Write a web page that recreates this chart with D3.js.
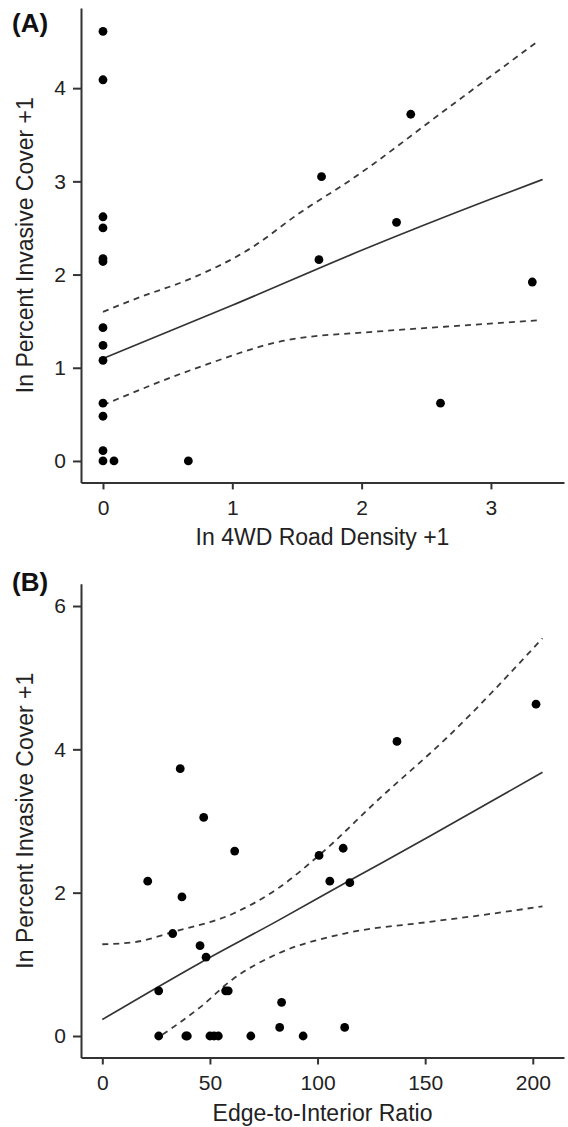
<!DOCTYPE html>
<html>
<head>
<meta charset="utf-8">
<script src="https://cdn.jsdelivr.net/npm/d3@7"></script>
<style>
	html, body { margin: 0; padding: 0; background: #fff; }
	svg { display: block; font-family: "Liberation Sans", Arial, sans-serif; }
	.axis path, .axis line { stroke: #333; stroke-width: 2; }
	.axis text { font-size: 21px; fill: #222; }
	.axis-title { font-size: 23px; fill: #222; }
	.panel-letter { font-size: 26px; font-weight: bold; fill: #111; }
</style>
</head>
<body>
<div id="chart"></div>
<script>
// ----------------------------------
// DATA
// ----------------------------------

// Panel A: ln 4WD road density +1 vs ln percent invasive cover +1
const roadDensity = [0, 0, 0, 0, 0, 0, 0, 0, 0, 0, 0, 0, 0, 0.085, 0.66, 1.67, 1.69, 2.27, 2.38, 2.61, 3.32];
const coverA = [4.61, 4.09, 2.62, 2.50, 2.17, 2.14, 1.43, 1.24, 1.08, 0.62, 0.48, 0.11, 0, 0, 0, 2.16, 3.05, 2.56, 3.72, 0.62, 1.92];

const fitA = [[0, 1.10], [1, 1.67], [2, 2.26], [3, 2.81], [3.40, 3.02]];
const upperA = [[0, 1.60], [0.29, 1.76], [0.65, 1.94], [1.14, 2.28], [1.52, 2.66], [1.91, 3.01], [2.68, 3.80], [3.36, 4.50]];
const lowerA = [[0, 0.60], [0.75, 1.01], [1.40, 1.29], [2.13, 1.39], [2.64, 1.44], [3.38, 1.51]];

const xTicksA = [0, 1, 2, 3];
const yTicksA = [0, 1, 2, 3, 4];

// Panel B: edge-to-interior ratio vs ln percent invasive cover +1
const edgeRatio = [36.2, 47.1, 61.5, 136.9, 201.5, 111.9, 21.1, 37.0, 32.7, 45.4, 48.2, 26.2, 57.3, 58.5, 83.3, 82.4,
	26.2, 38.8, 39.5, 50.0, 51.9, 53.9, 69.0, 93.3, 100.7, 105.7, 115.0, 112.6];
const coverB = [3.73, 3.05, 2.58, 4.11, 4.63, 2.62, 2.16, 1.94, 1.43, 1.26, 1.10, 0.63, 0.63, 0.63, 0.47, 0.12,
	0, 0, 0, 0, 0, 0, 0, 0, 2.52, 2.16, 2.14, 0.12];

const fitB = [[0, 0.23], [45.4, 1.02], [81.6, 1.61], [112.6, 2.13], [152.9, 2.80], [204.5, 3.68]];
const upperB = [[0, 1.28], [15, 1.31], [32.7, 1.45], [60.9, 1.71], [81.6, 2.06], [101.8, 2.55], [128.3, 3.30], [160.7, 4.18], [204.5, 5.55]];
const lowerB = [[28, 0.02], [45.4, 0.40], [60.9, 0.80], [81.6, 1.15], [112.6, 1.43], [151.3, 1.59], [174.6, 1.68], [204.5, 1.81]];

const xTicksB = [0, 50, 100, 150, 200];
const yTicksB = [0, 2, 4, 6];

// ----------------------------------
// SVG
// ----------------------------------

const width = 568, height = 1127;

const svg = d3.select("#chart")
	.append("svg")
	.attr("width", width)
	.attr("height", height);

const fmt = d3.format("d");

function drawPanel(opts){
	const xScale = d3.scaleLinear().domain(opts.xDomain).range([81, 564]);
	const yScale = d3.scaleLinear().domain(opts.yDomain).range(opts.yRange);
	const bottom = opts.yRange[0], top = opts.yRange[1];

	const g = svg.append("g").classed("panel", true);

	// axes
	g.append("g")
		.classed("axis", true)
		.attr("transform", `translate(0,${bottom})`)
		.call(d3.axisBottom(xScale).tickValues(opts.xTicks).tickFormat(fmt)
			.tickSizeInner(7).tickSizeOuter(0).tickPadding(11));

	g.append("g")
		.classed("axis", true)
		.attr("transform", "translate(81,0)")
		.call(d3.axisLeft(yScale).tickValues(opts.yTicks).tickFormat(fmt)
			.tickSizeInner(8).tickSizeOuter(0).tickPadding(7));

	// fitted line and confidence band
	const line = d3.line()
		.x(d => xScale(d[0]))
		.y(d => yScale(d[1]))
		.curve(d3.curveMonotoneX);

	g.append("path")
		.datum(opts.fit)
		.attr("d", line)
		.style("fill", "none")
		.style("stroke", "#333")
		.style("stroke-width", 1.7);

	[opts.upper, opts.lower].forEach(band => {
		g.append("path")
			.datum(band)
			.attr("d", line)
			.style("fill", "none")
			.style("stroke", "#3a3a3a")
			.style("stroke-width", 1.8)
			.style("stroke-dasharray", "6,5");
	});

	// points
	g.selectAll("circle")
		.data(opts.xs.map((x, i) => [x, opts.ys[i]]))
		.enter()
		.append("circle")
			.attr("cx", d => xScale(d[0]))
			.attr("cy", d => yScale(d[1]))
			.attr("r", 4.4)
			.style("fill", "#000");

	// labels
	g.append("text")
		.classed("axis-title", true)
		.attr("x", 322.5)
		.attr("y", opts.xTitleY)
		.attr("text-anchor", "middle")
		.text(opts.xTitle);

	const yMid = (top + bottom) / 2;
	g.append("text")
		.classed("axis-title", true)
		.attr("transform", `translate(33,${yMid}) rotate(-90)`)
		.attr("text-anchor", "middle")
		.text(opts.yTitle);

	g.append("text")
		.classed("panel-letter", true)
		.attr("x", 12)
		.attr("y", opts.letterY)
		.text(opts.letter);
}

drawPanel({
	xs: roadDensity, ys: coverA,
	fit: fitA, upper: upperA, lower: lowerA,
	xDomain: [-0.17, 3.565], yDomain: [-0.23, 4.86], yRange: [482.4, 8],
	xTicks: xTicksA, yTicks: yTicksA,
	xTitle: "In 4WD Road Density +1", xTitleY: 545,
	yTitle: "In Percent Invasive Cover +1",
	letter: "(A)", letterY: 32
});

drawPanel({
	xs: edgeRatio, ys: coverB,
	fit: fitB, upper: upperB, lower: lowerB,
	xDomain: [-9.9, 214.5], yDomain: [-0.30, 6.31], yRange: [1057.5, 583.8],
	xTicks: xTicksB, yTicks: yTicksB,
	xTitle: "Edge-to-Interior Ratio", xTitleY: 1121,
	yTitle: "In Percent Invasive Cover +1",
	letter: "(B)", letterY: 591
});
</script>
</body>
</html>
